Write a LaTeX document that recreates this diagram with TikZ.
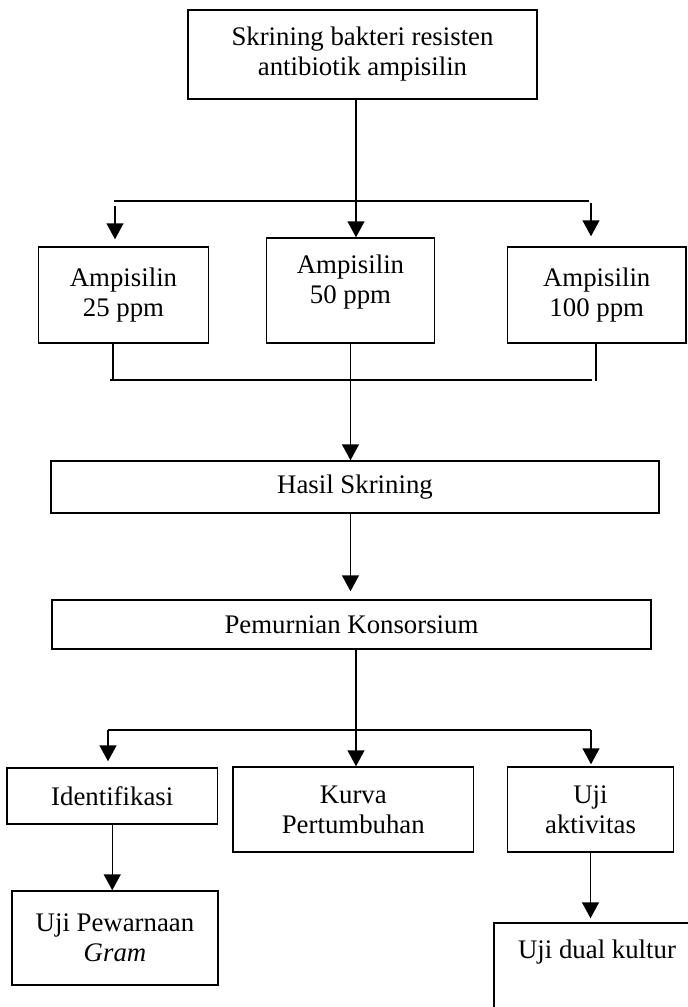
\documentclass[tikz,border=0pt]{standalone}
\usepackage{fontspec}
\setmainfont{Liberation Serif}
\usetikzlibrary{arrows.meta}

\begin{document}
\begin{tikzpicture}[x=0.5pt,y=-0.5pt,
		box/.style={draw,line width=0.75pt,inner sep=0pt,align=center,font=\fontsize{13.4}{15}\selectfont},
		txt/.style={inner sep=0pt,align=center,font=\fontsize{13.4}{15}\selectfont},
		wh/.style 2 args={minimum width=#1*0.5pt,minimum height=#2*0.5pt},
		ln/.style={line width=0.75pt},
		arr/.style={line width=0.75pt,-{Triangle[length=8pt,width=8.5pt]}}]
		\clip (0,0) rectangle (688,1007);
		\node[box,wh={349}{89}] (top) at (362.5,54.5) {Skrining bakteri resisten\\antibiotik ampisilin};
		\node[box,wh={170}{96}] (amp25) at (123.5,295) {Ampisilin\\25 ppm};
		\node[box,wh={168}{105}] (amp50) at (350.5,290.5) {};
		\node[txt] (amp50t) at (350.5,282) {Ampisilin\\50 ppm};
		\node[box,wh={178.5}{96}] (amp100) at (596.75,295) {Ampisilin\\100 ppm};
		\node[box,wh={608}{52}] (hasil) at (355,487) {Hasil Skrining};
		\node[box,wh={599}{49}] (murni) at (351.5,624.5) {Pemurnian Konsorsium};
		\node[box,wh={210.5}{56}] (ident) at (112.25,796) {Identifikasi};
		\node[box,wh={240.6}{85}] (kurva) at (353.3,809.5) {Kurva\\Pertumbuhan};
		\node[box,wh={166}{85}] (uji) at (590.5,809.5) {Uji\\aktivitas};
		\node[box,wh={206}{94}] (gram) at (115,938) {Uji Pewarnaan\\\textit{Gram}};
		\node[box,wh={206}{106}] (dual) at (597,976) {};
		\node[txt] (dualt) at (597,952) {Uji dual kultur};
		\coordinate (s1) at (356,201);
		\coordinate (s1l) at (114,201);
		\coordinate (s1r) at (589,201);
		\coordinate (a25) at (115,206);
		\coordinate (a100) at (591,203);
		\draw[ln] (top.south -| s1) -- (s1);
		\draw[ln] (s1l) -- (s1r);
		\draw[arr] (s1) -- (s1 |- amp50.north);
		\draw[arr,shorten >=3.5pt] (a25) -- (a25 |- amp25.north);
		\draw[arr,shorten >=5pt] (a100) -- (a100 |- amp100.north);
		\coordinate (s2l) at (110,380);
		\coordinate (s2r) at (592,380);
		\coordinate (b25) at (113,380);
		\coordinate (b100) at (596,381);
		\draw[ln] (b25 |- amp25.south) -- (b25);
		\draw[ln] (b100 |- amp100.south) -- (b100);
		\draw[ln] (s2l) -- (s2r);
		\draw[arr] (amp50.south) -- (amp50.south |- hasil.north);
		\draw[arr,shorten >=4pt] (amp50 |- hasil.south) -- (amp50 |- murni.north);
		\coordinate (s3) at (356,730);
		\coordinate (s3l) at (108,730);
		\coordinate (s3r) at (591,730);
		\draw[ln] (murni.south -| s3) -- (s3);
		\draw[ln] (s3l) -- (s3r);
		\draw[arr] (s3) -- (s3 |- kurva.north);
		\draw[arr,shorten >=3pt] (s3l) -- (s3l |- ident.north);
		\draw[arr,shorten >=1pt] (s3r) -- (s3r |- uji.north);
		\draw[arr] (ident.south) -- (ident.south |- gram.north);
		\draw[arr,shorten >=2pt] (uji.south) -- (uji.south |- dual.north);
	\end{tikzpicture}
\end{document}
